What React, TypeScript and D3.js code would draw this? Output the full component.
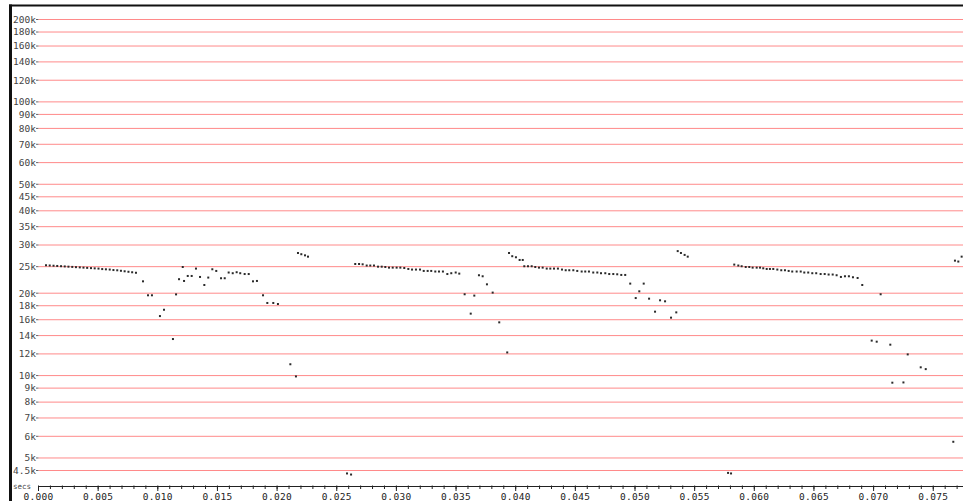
import React from "react";
import * as d3 from "d3";

// pitch track, [seconds, Hz]
const segment1: [number, number][] = [
  [0.00063, 25300], [0.00094, 25250], [0.00126, 25200], [0.00157, 25150], [0.00189, 25100],
  [0.0022, 25050], [0.00251, 25000], [0.00283, 24950], [0.00314, 24900], [0.00346, 24850],
  [0.00377, 24800], [0.00408, 24750], [0.0044, 24700], [0.00471, 24650], [0.00503, 24600],
  [0.00534, 24500], [0.00565, 24450], [0.00597, 24400], [0.00628, 24300], [0.0066, 24250],
  [0.00691, 24150], [0.00722, 24050], [0.00754, 23950], [0.00785, 23850], [0.00817, 23750],
  [0.00876, 22100], [0.00918, 19650], [0.00951, 19650], [0.01018, 16500], [0.01052, 17400],
  [0.01127, 13600], [0.01153, 19800], [0.01178, 22500],
];

const segment2: [number, number][] = [
  [0.01209, 24930], [0.0122, 22170], [0.01251, 23120], [0.01284, 23120], [0.0132, 24600],
  [0.01354, 22930], [0.0139, 21430], [0.01423, 22810], [0.01457, 24460], [0.0149, 24120],
  [0.0153, 22680], [0.01561, 22680], [0.01594, 23800], [0.01628, 23660], [0.01661, 23860],
  [0.01691, 23660], [0.01728, 23500], [0.01762, 23500], [0.01798, 22100], [0.01831, 22170],
  [0.01882, 19650], [0.01918, 18420], [0.01968, 18420], [0.02007, 18260], [0.02111, 11000],
  [0.02158, 9930], [0.02175, 28050], [0.02203, 27760], [0.02234, 27500], [0.02259, 27200],
  [0.02586, 4390], [0.0262, 4350],
];

const segment3: [number, number][] = [
  [0.02655, 25570], [0.02687, 25570], [0.02717, 25500], [0.02751, 25240], [0.02781, 25240],
  [0.02812, 25240], [0.02846, 25000], [0.02877, 25000], [0.02907, 24930], [0.02938, 24800],
  [0.02969, 24800], [0.03002, 24800], [0.03033, 24800], [0.03066, 24720], [0.031, 24520],
  [0.03131, 24400], [0.03164, 24400], [0.03198, 24400], [0.03229, 24120], [0.03262, 24120],
  [0.03292, 24120], [0.03326, 24000], [0.03357, 24000], [0.0339, 24000], [0.03427, 23500],
  [0.0346, 23660], [0.03497, 23800], [0.03527, 23580], [0.03572, 19820], [0.03623, 16840],
  [0.03653, 19600], [0.03692, 23260], [0.03723, 23060], [0.03759, 21550], [0.03807, 20100],
  [0.03862, 15650], [0.03929, 12150], [0.03944, 28050], [0.03971, 27300], [0.04002, 27060],
  [0.04033, 26450], [0.04059, 26450],
];

const segment4: [number, number][] = [
  [0.04072, 25090], [0.04103, 25090], [0.04134, 25090], [0.04164, 24930], [0.04195, 24800],
  [0.04226, 24800], [0.0426, 24600], [0.0429, 24600], [0.04321, 24600], [0.04354, 24600],
  [0.04388, 24400], [0.04419, 24260], [0.04449, 24260], [0.04483, 24260], [0.04516, 24120],
  [0.04553, 24000], [0.04583, 24000], [0.04614, 24000], [0.0465, 23800], [0.04684, 23800],
  [0.04715, 23660], [0.04751, 23660], [0.04784, 23500], [0.04818, 23500], [0.04851, 23450],
  [0.04885, 23320], [0.04918, 23320], [0.0496, 21680], [0.05006, 19200], [0.05036, 20320],
  [0.05073, 21680], [0.05118, 19100], [0.05168, 17120], [0.0521, 18840], [0.05252, 18680],
  [0.05302, 16280], [0.05346, 17020], [0.05358, 28500], [0.05385, 28050], [0.05416, 27600],
  [0.05442, 27200], [0.0578, 4410], [0.05805, 4390],
];

const segment5: [number, number][] = [
  [0.05832, 25440], [0.05866, 25240], [0.05894, 25090], [0.05928, 24930], [0.05958, 24930],
  [0.05986, 24800], [0.0602, 24800], [0.06048, 24800], [0.06075, 24660], [0.06104, 24520],
  [0.06131, 24520], [0.06159, 24520], [0.06193, 24400], [0.06226, 24260], [0.06257, 24260],
  [0.06288, 24120], [0.06318, 24000], [0.06355, 24000], [0.06389, 24000], [0.06419, 23800],
  [0.06452, 23800], [0.06486, 23660], [0.06519, 23660], [0.06556, 23500], [0.0659, 23500],
  [0.06623, 23400], [0.06657, 23400], [0.0669, 23260], [0.06726, 22930], [0.0676, 23060],
  [0.06793, 23060], [0.06827, 22870], [0.06866, 22730], [0.06905, 21430], [0.06984, 13420],
  [0.07026, 13300], [0.07059, 19820], [0.0714, 12970], [0.07157, 9420], [0.0725, 9440],
  [0.07286, 11950], [0.07395, 10720], [0.07437, 10560], [0.07668, 5730], [0.07682, 26300],
  [0.0771, 26100], [0.07738, 27200],
];

const yTicks = [
  4500, 5000, 6000, 7000, 8000, 9000, 10000, 12000, 14000, 16000, 18000, 20000, 25000,
  30000, 35000, 40000, 45000, 50000, 60000, 70000, 80000, 90000, 100000, 120000, 140000,
  160000, 180000, 200000,
];
const yTickLabels = [
  "4.5k", "5k", "6k", "7k", "8k", "9k", "10k", "12k", "14k", "16k", "18k", "20k", "25k",
  "30k", "35k", "40k", "45k", "50k", "60k", "70k", "80k", "90k", "100k", "120k", "140k",
  "160k", "180k", "200k",
];
const xTicks = [
  0, 0.005, 0.01, 0.015, 0.02, 0.025, 0.03, 0.035, 0.04, 0.045, 0.05, 0.055, 0.06, 0.065,
  0.07, 0.075,
];
const xTickLabels = xTicks.map((d) => d.toFixed(3));

const W = 963;
const H = 501;
const left = 38.5;
const axisY = 486.5;

export default function App() {
  const x = d3.scaleLinear().domain([0, 0.075]).range([left, 933.25]);
  const y = d3.scaleLog().domain([4500, 200000]).range([470.5, 19.5]);
  const minor = d3.range(0, 0.0776, 0.001);
  const points = [...segment1, ...segment2, ...segment3, ...segment4, ...segment5];

  return (
    <svg
      width={W}
      height={H}
      style={{ position: "absolute", left: 0, top: 0, background: "#fff" }}
    >
      {/* gridlines + y labels */}
      {yTicks.map((t, i) => (
        <g key={t}>
          <line x1={left} x2={W} y1={y(t)} y2={y(t)} stroke="#ff8a8a" strokeWidth={1} />
          <line x1={36} x2={left} y1={y(t)} y2={y(t)} stroke="#666" strokeWidth={1} />
          <text
            x={36}
            y={y(t)}
            dy="0.35em"
            textAnchor="end"
            fontFamily="DejaVu Sans Mono"
            fontSize={9.5}
            fill="#444"
          >
            {yTickLabels[i]}
          </text>
        </g>
      ))}

      {/* x axis */}
      <line x1={left} x2={W} y1={axisY} y2={axisY} stroke="#222" strokeWidth={1} />
      {minor.map((t) => (
        <line key={t} x1={x(t)} x2={x(t)} y1={axisY - 1} y2={axisY + 2.5} stroke="#222" strokeWidth={1} />
      ))}
      {xTicks.map((t, i) => (
        <g key={t}>
          <line x1={x(t)} x2={x(t)} y1={axisY} y2={axisY + 4.5} stroke="#222" strokeWidth={1} />
          <text
            x={x(t)}
            y={499.5}
            textAnchor="middle"
            fontFamily="DejaVu Sans Mono"
            fontSize={9.5}
            letterSpacing={0.3}
            fill="#222"
          >
            {xTickLabels[i]}
          </text>
        </g>
      ))}
      <text x={13} y={489} fontFamily="DejaVu Sans Mono" fontSize={7.5} fill="#444">
        secs
      </text>

      {/* points */}
      {points.map(([t, f], i) => (
        <rect key={i} x={x(t) - 1} y={y(f) - 1} width={2} height={2} fill="#2a2a2a" />
      ))}

      {/* frame */}
      <line x1={9} x2={W} y1={5.5} y2={5.5} stroke="#111" strokeWidth={2} />
      <line x1={10.5} x2={10.5} y1={4.5} y2={H} stroke="#111" strokeWidth={3} />
    </svg>
  );
}
